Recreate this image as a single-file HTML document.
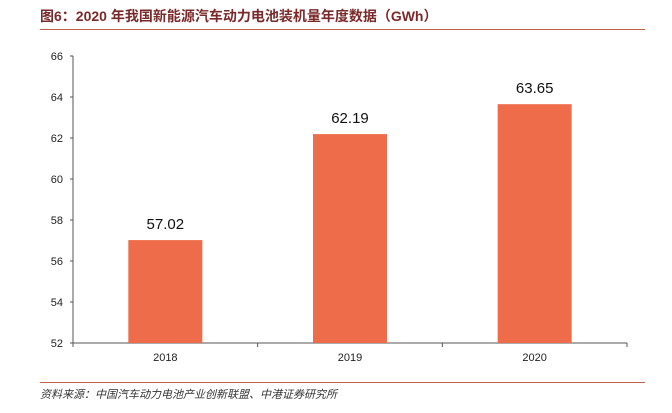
<!DOCTYPE html>
<html><head><meta charset="utf-8"><style>
body{margin:0;width:672px;height:408px;background:#fff;overflow:hidden;font-family:"Liberation Sans","Noto Sans CJK SC",sans-serif;}
</style></head><body>
<svg width="672" height="408" xmlns="http://www.w3.org/2000/svg">
<text x="40" y="21" font-size="14" font-weight="bold" fill="#7a2a2a" font-family="Liberation Sans,Noto Sans CJK SC,sans-serif">图6：2020 年我国新能源汽车动力电池装机量年度数据（GWh）</text>
<line x1="40" y1="29.5" x2="645" y2="29.5" stroke="#c0604a" stroke-width="1"/>
<g id="plot"></g>
<line x1="40" y1="382.5" x2="645" y2="382.5" stroke="#c0604a" stroke-width="1"/>
<text x="40" y="398" font-size="11" font-style="italic" fill="#333" font-family="Liberation Sans,Noto Sans CJK SC,sans-serif">资料来源：中国汽车动力电池产业创新联盟、中港证券研究所</text>
</svg>
<script>
const categories=["2018","2019","2020"];
const values=[57.02,62.19,63.65];
const yTicks=[52,54,56,58,60,62,64,66];
const ns="http://www.w3.org/2000/svg";
const g=document.getElementById("plot");
const x0=73,x1=627,yTop=56,yBot=343,ymin=52,ymax=66;
const y=v=>yBot-(v-ymin)/(ymax-ymin)*(yBot-yTop);
const band=(x1-x0)/categories.length;
const bw=74;
function mk(t,a){const e=document.createElementNS(ns,t);for(const k in a)e.setAttribute(k,a[k]);g.appendChild(e);return e;}
const ax=mk("line",{x1:x0,y1:yTop,x2:x0,y2:yBot,stroke:"#555"});


const bx=mk("line",{x1:x0,y1:yBot,x2:x1,y2:yBot,stroke:"#555"});


yTicks.forEach(t=>{
 const tk=mk("line",{x1:x0-3,y1:y(t),x2:x0,y2:y(t),stroke:"#555"});
 
 
 const l=mk("text",{x:x0-10,y:y(t)+4,"font-size":11,"text-anchor":"end",fill:"#222"});
 l.textContent=t;
 
 
});
for(let i=0;i<=categories.length;i++){
 const tk=mk("line",{x1:x0+band*i,y1:yBot,x2:x0+band*i,y2:yBot+4,stroke:"#555"});
 
 
}
categories.forEach((c,i)=>{
 const cx=x0+band*(i+0.5);
 const r=mk("rect",{x:cx-bw/2,y:y(values[i]),width:bw,height:yBot-y(values[i]),fill:"#ee6c4a"});
 
 
 const v=mk("text",{x:cx,y:y(values[i])-11,"font-size":15,"text-anchor":"middle",fill:"#111"});
 v.textContent=values[i].toFixed(2);
 
 
 const l=mk("text",{x:cx,y:yBot+18,"font-size":11,"text-anchor":"middle",fill:"#222"});
 l.textContent=c;
 
 
});
</script>
</body></html>
